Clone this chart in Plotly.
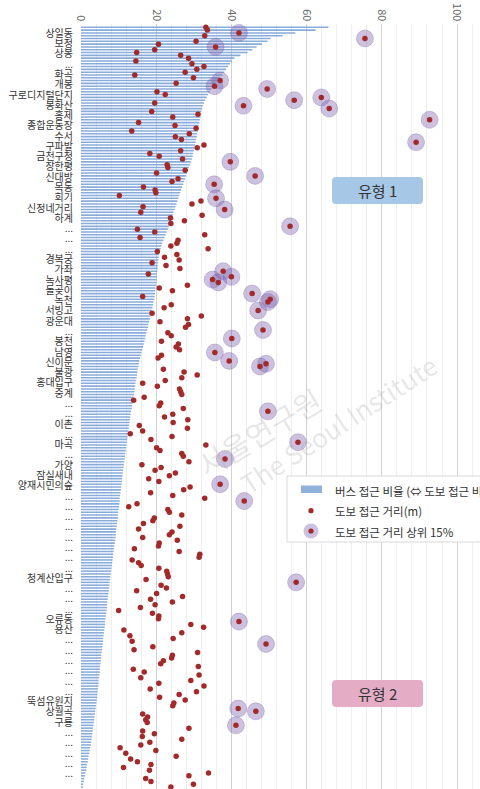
import plotly.graph_objects as go

# ---------------- data ----------------
bus_ratio = [
    65.8, 62.4, 57.0, 53.6, 50.4, 49.6, 48.1, 46.7, 45.6, 44.3,
    42.4, 40.8, 40.1, 39.6, 39.1, 38.6, 38.1, 37.6, 36.9, 36.3,
    35.8, 35.2, 34.7, 34.2, 33.8, 33.4, 33.0, 32.7, 32.4, 32.2,
    32.0, 31.9, 31.8, 31.6, 31.5, 31.3, 31.2, 31.1, 30.9, 30.8,
    30.6, 30.5, 30.3, 30.2, 30.0, 29.8, 29.7, 29.5, 29.2, 29.0,
    28.7, 28.5, 28.2, 27.9, 27.7, 27.4, 27.2, 26.9, 26.6, 26.4,
    26.1, 25.9, 25.6, 25.4, 25.1, 24.9, 24.6, 24.4, 24.2, 23.9,
    23.7, 23.4, 23.1, 22.8, 22.5, 22.2, 21.9, 21.6, 21.4, 21.2,
    21.0, 20.8, 20.7, 20.6, 20.5, 20.4, 20.4, 20.3, 20.2, 20.2,
    20.1, 20.0, 19.9, 19.8, 19.7, 19.7, 19.6, 19.5, 19.3, 19.2,
    19.0, 18.8, 18.6, 18.5, 18.3, 18.1, 17.9, 17.8, 17.6, 17.4,
    17.2, 17.1, 16.9, 16.7, 16.5, 16.3, 16.1, 15.9, 15.7, 15.5,
    15.4, 15.3, 15.1, 15.0, 14.9, 14.8, 14.6, 14.5, 14.4, 14.3,
    14.2, 14.1, 13.9, 13.8, 13.7, 13.6, 13.5, 13.3, 13.2, 13.1,
    13.0, 12.9, 12.8, 12.7, 12.6, 12.5, 12.4, 12.3, 12.2, 12.1,
    12.0, 11.9, 11.8, 11.7, 11.6, 11.5, 11.4, 11.3, 11.2, 11.1,
    11.0, 10.9, 10.9, 10.8, 10.7, 10.6, 10.5, 10.4, 10.3, 10.3,
    10.2, 10.1, 10.0, 9.9, 9.8, 9.8, 9.7, 9.6, 9.5, 9.4,
    9.3, 9.3, 9.2, 9.1, 9.0, 8.9, 8.8, 8.7, 8.6, 8.5,
    8.4, 8.3, 8.2, 8.1, 8.0, 7.9, 7.8, 7.7, 7.6, 7.6,
    7.5, 7.4, 7.3, 7.2, 7.1, 7.0, 6.9, 6.9, 6.8, 6.7,
    6.6, 6.5, 6.4, 6.4, 6.3, 6.2, 6.1, 6.0, 5.9, 5.9,
    5.8, 5.7, 5.6, 5.5, 5.4, 5.4, 5.3, 5.2, 5.1, 5.0,
    5.0, 4.9, 4.8, 4.7, 4.7, 4.6, 4.5, 4.4, 4.4, 4.3,
    4.2, 4.1, 4.0, 3.9, 3.8, 3.7, 3.6, 3.5, 3.4, 3.3,
    3.2, 3.1, 3.0, 2.9, 2.8, 2.7, 2.6, 2.4, 2.3, 2.2,
    2.0, 1.9, 1.8, 1.6, 1.5, 1.4, 1.2, 1.1, 0.9, 0.8,
    0.6, 0.5,
]

walk_dist = [
    33.2, 33.6, 42.0, 32.9, 75.5, 30.6, 20.6, 35.8, 19.6, 14.8,
    26.5, 28.6, 14.6, 29.5, 32.7, 30.8, 27.7, 14.3, 29.9, 37.0,
    25.3, 35.5, 49.5, 20.2, 22.4, 63.9, 56.7, 19.6, 43.2, 66.0,
    18.8, 31.1, 24.4, 92.7, 15.3, 25.0, 30.6, 13.5, 28.8, 25.1,
    26.7, 89.1, 32.7, 30.9, 26.5, 18.3, 20.8, 27.0, 39.7, 22.9,
    23.1, 27.7, 20.1, 46.3, 25.8, 24.2, 35.4, 16.6, 19.7, 19.9,
    10.2, 35.9, 31.9, 29.5, 16.5, 38.2, 15.9, 32.2, 23.8, 27.5,
    23.9, 55.6, 15.0, 19.6, 32.9, 15.7, 25.8, 25.5, 23.9, 33.8,
    20.3, 25.5, 22.2, 26.1, 18.9, 22.6, 26.3, 37.8, 17.9, 40.0,
    35.0, 36.5, 28.3, 20.8, 24.3, 45.5, 16.4, 50.3, 49.7, 24.0,
    22.1, 47.1, 18.9, 32.0, 28.3, 21.0, 28.6, 27.8, 48.4, 23.1,
    24.0, 40.1, 21.4, 25.9, 25.3, 26.2, 35.6, 21.4, 20.5, 39.4,
    49.2, 47.6, 21.9, 27.4, 30.9, 26.8, 22.4, 16.4, 20.3, 26.2,
    26.5, 26.8, 16.8, 14.0, 21.2, 20.8, 27.2, 49.7, 24.4, 22.2,
    28.4, 24.5, 15.5, 28.3, 16.4, 13.1, 24.2, 18.6, 57.7, 33.2,
    20.1, 21.0, 26.8, 27.2, 38.3, 28.7, 16.2, 21.3, 19.7, 25.1,
    23.5, 18.0, 20.7, 37.0, 29.0, 27.3, 18.5, 24.4, 32.9, 43.4,
    14.9, 12.7, 23.1, 23.5, 26.8, 19.5, 19.1, 16.6, 26.3, 15.3,
    24.2, 23.5, 16.4, 25.6, 20.8, 20.6, 14.2, 26.1, 31.6, 31.4,
    13.6, 15.3, 16.0, 20.7, 22.8, 23.0, 23.2, 17.3, 57.2, 21.3,
    22.7, 14.8, 20.1, 27.0, 18.5, 24.3, 19.7, 15.8, 10.0, 19.0,
    20.7, 20.6, 42.0, 29.2, 32.6, 11.4, 26.8, 13.0, 24.5, 13.6,
    49.2, 19.1, 14.1, 31.0, 24.3, 24.1, 21.9, 21.2, 31.2, 13.9,
    16.8, 31.4, 15.9, 29.2, 20.7, 32.7, 18.4, 30.7, 26.1, 20.9,
    27.7, 24.7, 24.4, 41.8, 46.5, 16.4, 17.7, 17.2, 17.6, 41.2,
    28.7, 16.4, 19.5, 16.3, 26.8, 18.3, 15.9, 10.4, 19.9, 11.9,
    25.3, 13.2, 15.0, 18.6, 11.3, 18.2, 33.9, 28.7, 17.2, 18.6,
    29.9, 23.9,
]

TOP15_THRESHOLD = 34.5  # walking distance of the top 15 % stations

y_labels = (
    ["상일동", "보정", "상봉", "...", "화곡", "개봉", "구로디지털단지", "봉화산", "홍제",
     "종합운동장", "수서", "구파발", "금천구청", "장한평", "신대방", "목동", "회기",
     "신정네거리", "하계", "...", "...", "...", "경복궁", "가좌", "녹사평", "돌곶이",
     "녹천", "서빙고", "광운대", "...", "봉천", "남영", "신이문", "불광", "홍대입구",
     "중계", "...", "...", "이촌", "...", "마곡", "...", "가양", "잠실새내", "양재시민의숲"]
    + ["..."] * 8
    + ["청계산입구", "...", "...", "...", "오류동", "용산"]
    + ["..."] * 6
    + ["뚝섬유원지", "상월곡", "구룡"]
    + ["..."] * 6
)
x_ticks = [0, 20, 40, 60, 80, 100]

legend_texts = ["버스 접근 비율 (⇔ 도보 접근 비율)", "도보 접근 거리(m)", "도보 접근 거리 상위 15%"]
group_texts = ["유형 1", "유형 2"]

# ---------------- layout geometry ----------------
W, H = 480, 789
ML, MR, MT, MB = 81, 0, 24, 0
PW, PH = W - ML - MR, H - MT - MB
FONT = "Noto Sans CJK KR, Noto Sans, sans-serif"

def px(x):
    return (x - ML) / PW

def py(y):
    return 1 - (y - MT) / PH

n = len(bus_ratio)
rows = list(range(n))
X_RANGE = [0, 106.1]
Y_RANGE = [n - 1 + 0.71, -1.18]
LABEL_START, LABEL_STEP = 2.14, 3.668
label_pos = [LABEL_START + LABEL_STEP * i for i in range(len(y_labels))]

top_idx = [i for i, v in enumerate(walk_dist) if v >= TOP15_THRESHOLD]

BAR_COLOR = "rgba(120,160,214,0.88)"
DOT_COLOR = "#a32a2a"
RING_COLOR = "rgba(120,95,170,0.38)"

fig = go.Figure()
fig.add_trace(go.Bar(
    x=bus_ratio, y=rows, orientation="h", width=0.56,
    marker=dict(color=BAR_COLOR, line=dict(width=0)),
    name=legend_texts[0], showlegend=False, hoverinfo="x+y",
))
fig.add_trace(go.Scatter(
    x=[walk_dist[i] for i in top_idx], y=top_idx, mode="markers",
    marker=dict(size=17, color=RING_COLOR, line=dict(width=1, color="rgba(120,95,170,0.3)")),
    name=legend_texts[2], showlegend=False,
))
fig.add_trace(go.Scatter(
    x=walk_dist, y=rows, mode="markers",
    marker=dict(size=5.5, color=DOT_COLOR),
    name=legend_texts[1], showlegend=False,
))

def rrect(x0, y0, x1, y1, r):
    P = lambda x, y: f"{px(x):.5f},{py(y):.5f}"
    return (f"M{P(x0 + r, y0)} L{P(x1 - r, y0)} Q{P(x1, y0)} {P(x1, y0 + r)} "
            f"L{P(x1, y1 - r)} Q{P(x1, y1)} {P(x1 - r, y1)} L{P(x0 + r, y1)} "
            f"Q{P(x0, y1)} {P(x0, y1 - r)} L{P(x0, y0 + r)} Q{P(x0, y0)} {P(x0 + r, y0)} Z")

shapes = []
annotations = []

# group boxes
for (bx0, by0, bx1, by1), fill, txt in [((332, 177, 423, 204), "rgb(166,200,230)", group_texts[0]),
                                         ((332, 680, 423, 707), "rgb(228,172,197)", group_texts[1])]:
    shapes.append(dict(type="path", xref="paper", yref="paper", path=rrect(bx0, by0, bx1, by1, 4),
                       fillcolor=fill, line=dict(width=0), layer="above"))
    annotations.append(dict(x=px((bx0 + bx1) / 2), y=py((by0 + by1) / 2), xref="paper", yref="paper",
                            xanchor="center", yanchor="middle",
                            text=txt, showarrow=False, font=dict(size=15, color="#333", family=FONT)))

# watermark
annotations.append(dict(x=px(259), y=py(432), xref="paper", yref="paper", text="서울연구원",
                        xanchor="center", yanchor="middle", textangle=-31, showarrow=False,
                        font=dict(size=30, color="rgba(170,170,170,0.28)", family=FONT)))
annotations.append(dict(x=px(338), y=py(423), xref="paper", yref="paper", text="The Seoul Institute",
                        xanchor="center", yanchor="middle", textangle=-33, showarrow=False,
                        font=dict(size=26, color="rgba(170,170,170,0.28)", family=FONT)))

# manual legend
shapes.append(dict(type="rect", xref="paper", yref="paper", x0=px(287), x1=px(540), y0=py(542), y1=py(476),
                   fillcolor="white", line=dict(color="#d9d9d9", width=1), layer="above"))
shapes.append(dict(type="rect", xref="paper", yref="paper", x0=px(301), x1=px(322), y0=py(493), y1=py(485.5),
                   fillcolor="rgb(143,177,220)", line=dict(width=0), layer="above"))
for cy, r, col in [(510.7, 2.6, DOT_COLOR), (531, 7.5, RING_COLOR), (531, 2.6, DOT_COLOR)]:
    shapes.append(dict(type="circle", xref="paper", yref="paper", xsizemode="pixel", ysizemode="pixel",
                       xanchor=px(311), yanchor=py(cy), x0=-r, x1=r, y0=-r, y1=r,
                       fillcolor=col, line=dict(width=0), layer="above"))
for ty, txt in zip([490.5, 511.5, 531.5], legend_texts):
    annotations.append(dict(x=px(333), y=py(ty), xref="paper", yref="paper", xanchor="left",
                            yanchor="middle", text=txt, showarrow=False,
                            font=dict(size=11.5, color="#333", family=FONT)))

fig.update_layout(
    width=W, height=H, margin=dict(l=ML, r=MR, t=MT, b=MB, pad=0),
    paper_bgcolor="white", plot_bgcolor="white",
    font=dict(family=FONT, color="#333"),
    shapes=shapes, annotations=annotations, showlegend=False,
    xaxis=dict(side="top", range=X_RANGE, tickvals=x_ticks, ticksuffix="%", tickangle=90,
               tickfont=dict(size=11, color="#666"), showgrid=True, gridcolor="#d2d2d2", gridwidth=1,
               minor=dict(dtick=4, tick0=0, showgrid=True, gridcolor="#eeeeee", gridwidth=1),
               zeroline=False, showline=False, ticks="", fixedrange=True),
    yaxis=dict(range=Y_RANGE, tickvals=label_pos, ticktext=y_labels, tickfont=dict(size=10, color="#333"),
               showgrid=False, zeroline=False, showline=False, ticks="", ticklabelstandoff=7,
               fixedrange=True),
)

fig.write_html("out.html")
